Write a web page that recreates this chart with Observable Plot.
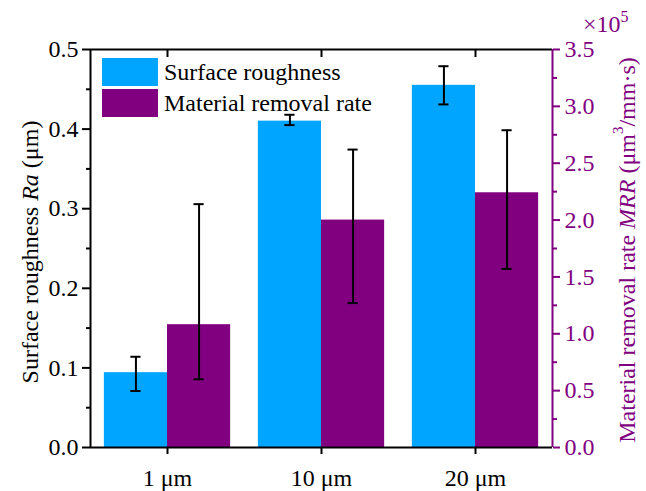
<!DOCTYPE html>
<html><head><meta charset="utf-8">
<script src="https://cdn.jsdelivr.net/npm/d3@7"></script>
<script src="https://cdn.jsdelivr.net/npm/@observablehq/plot@0.6"></script>
<style>
body{margin:0;background:#fff}
svg{font-family:'Liberation Serif','Times New Roman',serif}
</style>
</head><body><div id="chart"></div>
<script>
const categories = ["1 μm", "10 μm", "20 μm"];
const seriesNames = ["Surface roughness", "Material removal rate"];
const raMean = [0.094, 0.410, 0.455];
const raLow  = [0.071, 0.405, 0.431];
const raHigh = [0.114, 0.418, 0.479];
const mrrMean = [1.08, 2.00, 2.24];   // ×10^5 μm³/mm·s
const mrrLow  = [0.60, 1.27, 1.57];
const mrrHigh = [2.14, 2.62, 2.79];
const raTicks = [0, 0.1, 0.2, 0.3, 0.4, 0.5];
const raMinor = [0.05, 0.15, 0.25, 0.35, 0.45];
const mrrTicks = [0, 0.5, 1.0, 1.5, 2.0, 2.5, 3.0, 3.5];
const mrrMinor = [0.25, 0.75, 1.25, 1.75, 2.25, 2.75, 3.25];

const BLUE = "#00A5FF", PURPLE = "#800080";
const K = 0.5 / 3.5;     // map MRR axis onto Ra axis
const W = 0.41;          // bar width (x units)
const CAP = 0.033;       // half cap width

const pos = categories.map((c, i) => i + 1);
const raRows = categories.map((c, i) => ({pos: pos[i], cx: pos[i] - W / 2, v: raMean[i], lo: raLow[i], hi: raHigh[i]}));
const mrrRows = categories.map((c, i) => ({pos: pos[i], cx: pos[i] + W / 2, v: mrrMean[i] * K, lo: mrrLow[i] * K, hi: mrrHigh[i] * K}));
const errRows = raRows.concat(mrrRows);

const plot = Plot.plot({
  width: 646, height: 491,
  marginLeft: 90, marginRight: 94, marginTop: 49, marginBottom: 44,
  style: {fontSize: "24px", fontFamily: "'Liberation Serif', serif", background: "white"},
  x: {domain: [0.5, 3.5]},
  y: {domain: [0, 0.5]},
  marks: [
    Plot.rect(raRows, {x1: d => d.pos - W, x2: "pos", y1: 0, y2: "v", fill: BLUE}),
    Plot.rect(mrrRows, {x1: "pos", x2: d => d.pos + W, y1: 0, y2: "v", fill: PURPLE}),
    Plot.ruleX(errRows, {x: "cx", y1: "lo", y2: "hi", stroke: "black", strokeWidth: 2}),
    Plot.ruleY(errRows, {y: "lo", x1: d => d.cx - CAP, x2: d => d.cx + CAP, stroke: "black", strokeWidth: 2}),
    Plot.ruleY(errRows, {y: "hi", x1: d => d.cx - CAP, x2: d => d.cx + CAP, stroke: "black", strokeWidth: 2}),
    // frame
    Plot.ruleY([0, 0.5], {stroke: "black", strokeWidth: 2}),
    Plot.ruleX([0.5], {stroke: "black", strokeWidth: 2}),
    Plot.ruleX([3.5], {stroke: PURPLE, strokeWidth: 2}),
    // x axes
    Plot.axisX({ticks: pos, tickFormat: d => categories[d - 1], tickSize: 7, tickPadding: 14, strokeWidth: 2, label: null}),
    Plot.axisX({anchor: "top", ticks: pos, tickSize: 7, dy: 7, tickFormat: () => "", strokeWidth: 2, label: null}),
    // left axis
    Plot.axisY({ticks: raTicks, tickFormat: d3.format(".1f"), tickSize: 8, tickPadding: 4, strokeWidth: 2, label: null}),
    Plot.axisY({ticks: raMinor, tickFormat: () => "", tickSize: 4, strokeWidth: 2, label: null}),
    // right axis
    Plot.axisY({anchor: "right", ticks: mrrTicks.map(v => v * K), tickFormat: d => (d / K).toFixed(1),
      tickSize: 7, tickPadding: 5, strokeWidth: 2, stroke: PURPLE, fill: PURPLE, label: null}),
    Plot.axisY({anchor: "right", ticks: mrrMinor.map(v => v * K), tickFormat: () => "",
      tickSize: 4, strokeWidth: 2, stroke: PURPLE, label: null})
  ]
});
document.getElementById("chart").append(plot);

const svg = d3.select(plot);
// left title
const lt = svg.append("text")
  .attr("transform", "translate(30,252) rotate(-90)")
  .attr("text-anchor", "middle").attr("dominant-baseline", "central")
  .attr("font-size", 24).attr("fill", "black");
lt.append("tspan").text("Surface roughness ");
lt.append("tspan").attr("font-style", "italic").text("Ra");
lt.append("tspan").text(" (μm)");
// right title
const rt = svg.append("text")
  .attr("transform", "translate(627,250) rotate(-90)")
  .attr("text-anchor", "middle").attr("dominant-baseline", "central")
  .attr("font-size", 24).attr("fill", PURPLE);
rt.append("tspan").text("Material removal rate ");
rt.append("tspan").attr("font-style", "italic").text("MRR");
rt.append("tspan").text(" (μm");
rt.append("tspan").attr("font-size", 15).attr("dy", -9).text("3");
rt.append("tspan").attr("dy", 9).text("/mm·s)");
// exponent
const ex = svg.append("text").attr("x", 583).attr("y", 32).attr("text-anchor", "start")
  .attr("font-size", 24).attr("fill", PURPLE);
ex.append("tspan").text("×10");
ex.append("tspan").attr("font-size", 16).attr("dy", -10).text("5");
// legend
const leg = svg.append("g");
seriesNames.forEach((name, i) => {
  leg.append("rect").attr("x", 102).attr("y", 58 + i * 31).attr("width", 56).attr("height", 28)
    .attr("fill", [BLUE, PURPLE][i]);
  leg.append("text").attr("x", 164).attr("y", 80 + i * 31).attr("text-anchor", "start")
    .attr("font-size", 24).attr("fill", "black").text(name);
});
</script>
</body></html>
